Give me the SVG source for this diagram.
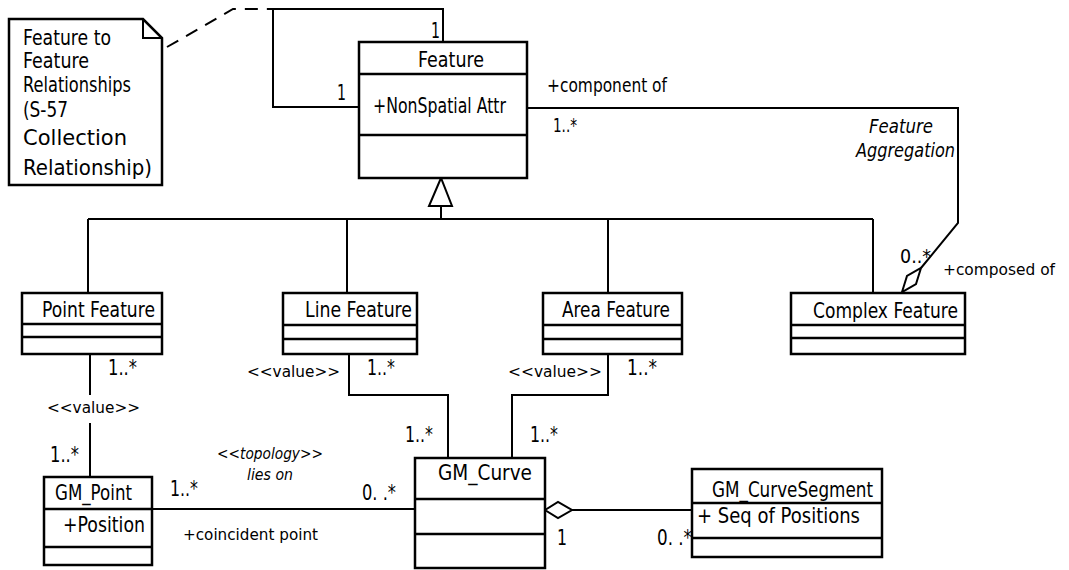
<svg xmlns="http://www.w3.org/2000/svg" width="1069" height="570" viewBox="0 0 1069 570">
<style>
.box{fill:#fff;stroke:#000;stroke-width:2.5}
.div{stroke:#000;stroke-width:2.5}
.ln{fill:none;stroke:#000;stroke-width:2}
.hd{fill:#fff;stroke:#000;stroke-width:2}
text{font-family:"DejaVu Sans","Liberation Sans",sans-serif;fill:#000}
.t{font-size:21px}
.m{font-size:19px}
.s{font-size:15px}
.i{font-style:italic}
</style>
<rect width="1069" height="570" fill="#fff"/>
<g id="connectors">
<path class="ln" d="M443,42 V9 H273 V107 H359"/>
<path class="ln" d="M167,47 L233,9 H273" stroke-dasharray="13,9"/>
<path class="ln" d="M441,206 V219 M88,219 H873 M88,219 V293 M347,219 V293 M608,219 V293 M873,219 V293"/>
<polygon class="hd" points="441,178 429,206 452,206"/>
<path class="ln" d="M527,108 H958 V223 L921,268"/>
<polygon class="hd" points="921,268 916,284 902,292 907,276"/>
<path class="ln" d="M90,354 V395 M90,423 V477"/>
<path class="ln" d="M152,509 H415"/>
<path class="ln" d="M349,354 V395 H448 V458"/>
<path class="ln" d="M608,354 V395 H512 V458"/>
<path class="ln" d="M572,510 H692"/>
<polygon class="hd" points="545,510 558,502 572,510 558,518"/>
<text class="t" x="431" y="38" textLength="9" lengthAdjust="spacingAndGlyphs">1</text>
<text class="t" x="337" y="100" textLength="9" lengthAdjust="spacingAndGlyphs">1</text>
<text class="m" x="547" y="92" textLength="120" lengthAdjust="spacingAndGlyphs">+component of</text>
<text class="m" x="553" y="132" textLength="24" lengthAdjust="spacingAndGlyphs">1..*</text>
<text class="m i" x="869" y="133" textLength="64" lengthAdjust="spacingAndGlyphs">Feature</text>
<text class="m i" x="856" y="157" textLength="99" lengthAdjust="spacingAndGlyphs">Aggregation</text>
<text class="m" x="900" y="263" textLength="31" lengthAdjust="spacingAndGlyphs">0..*</text>
<text x="943" y="275" font-size="16" textLength="112" lengthAdjust="spacingAndGlyphs">+composed of</text>
<text class="t" x="108" y="375" textLength="29" lengthAdjust="spacingAndGlyphs">1..*</text>
<text class="s" x="47" y="413" textLength="93" lengthAdjust="spacingAndGlyphs">&lt;&lt;value&gt;&gt;</text>
<text class="t" x="50" y="462" textLength="29" lengthAdjust="spacingAndGlyphs">1..*</text>
<text class="s" x="247" y="377" textLength="93" lengthAdjust="spacingAndGlyphs">&lt;&lt;value&gt;&gt;</text>
<text class="t" x="367" y="375" textLength="28" lengthAdjust="spacingAndGlyphs">1..*</text>
<text class="s" x="508" y="377" textLength="94" lengthAdjust="spacingAndGlyphs">&lt;&lt;value&gt;&gt;</text>
<text class="t" x="627" y="375" textLength="30" lengthAdjust="spacingAndGlyphs">1..*</text>
<text class="t" x="405" y="442" textLength="28" lengthAdjust="spacingAndGlyphs">1..*</text>
<text class="t" x="530" y="442" textLength="28" lengthAdjust="spacingAndGlyphs">1..*</text>
<text class="s i" x="217" y="459" textLength="106" lengthAdjust="spacingAndGlyphs">&lt;&lt;topology&gt;&gt;</text>
<text class="s i" x="247" y="480" textLength="46" lengthAdjust="spacingAndGlyphs">lies on</text>
<text class="t" x="170" y="496" textLength="28" lengthAdjust="spacingAndGlyphs">1..*</text>
<text class="t" x="362" y="500" textLength="34" lengthAdjust="spacingAndGlyphs">0. .*</text>
<text class="s" x="183" y="540" textLength="135" lengthAdjust="spacingAndGlyphs">+coincident point</text>
<text class="t" x="557" y="545" textLength="10" lengthAdjust="spacingAndGlyphs">1</text>
<text class="t" x="657" y="545" textLength="35" lengthAdjust="spacingAndGlyphs">0. .*</text>
</g>
<g id="note">
<path class="box" d="M9,19 H143 L162,38 V185 H9 Z"/>
<path class="ln" d="M143,19 V38 H162"/>
<text class="t" x="23" y="45" textLength="88" lengthAdjust="spacingAndGlyphs">Feature to</text>
<text class="t" x="23" y="68" textLength="66" lengthAdjust="spacingAndGlyphs">Feature</text>
<text class="t" x="23" y="92" textLength="108" lengthAdjust="spacingAndGlyphs">Relationships</text>
<text class="t" x="23" y="117" textLength="45" lengthAdjust="spacingAndGlyphs">(S-57</text>
<text class="t" x="23" y="145" textLength="104" lengthAdjust="spacingAndGlyphs">Collection</text>
<text class="t" x="23" y="175" textLength="129" lengthAdjust="spacingAndGlyphs">Relationship)</text>
</g>
<g id="feature">
<rect class="box" x="359" y="42" width="168" height="136"/>
<path class="div" d="M359,74 H527 M359,135 H527"/>
<text class="t" x="418" y="67" textLength="66" lengthAdjust="spacingAndGlyphs">Feature</text>
<text class="t" x="373" y="113" textLength="133" lengthAdjust="spacingAndGlyphs">+NonSpatial Attr</text>
</g>
<g id="point-feature">
<rect class="box" x="22" y="293" width="140" height="61"/>
<path class="div" d="M22,324 H162 M22,337 H162"/>
<text class="t" x="42" y="317" textLength="113" lengthAdjust="spacingAndGlyphs">Point Feature</text>
</g>
<g id="line-feature">
<rect class="box" x="283" y="293" width="134" height="61"/>
<path class="div" d="M283,325 H417 M283,339 H417"/>
<text class="t" x="305" y="317" textLength="107" lengthAdjust="spacingAndGlyphs">Line Feature</text>
</g>
<g id="area-feature">
<rect class="box" x="543" y="293" width="139" height="61"/>
<path class="div" d="M543,325 H682 M543,339 H682"/>
<text class="t" x="562" y="317" textLength="108" lengthAdjust="spacingAndGlyphs">Area Feature</text>
</g>
<g id="complex-feature">
<rect class="box" x="791" y="293" width="174" height="61"/>
<path class="div" d="M791,325 H965 M791,338 H965"/>
<text class="t" x="813" y="318" textLength="145" lengthAdjust="spacingAndGlyphs">Complex Feature</text>
</g>
<g id="gm-point">
<rect class="box" x="44" y="477" width="108" height="88"/>
<path class="div" d="M44,509 H152 M44,547 H152"/>
<text class="t" x="55" y="500" textLength="77" lengthAdjust="spacingAndGlyphs">GM_Point</text>
<text class="t" x="63" y="532" textLength="82" lengthAdjust="spacingAndGlyphs">+Position</text>
</g>
<g id="gm-curve">
<rect class="box" x="415" y="458" width="130" height="110"/>
<path class="div" d="M415,499 H545 M415,534 H545"/>
<text class="t" x="438" y="480" textLength="94" lengthAdjust="spacingAndGlyphs">GM_Curve</text>
</g>
<g id="gm-curvesegment">
<rect class="box" x="692" y="469" width="190" height="88"/>
<path class="div" d="M692,503 H882 M692,538 H882"/>
<text class="t" x="712" y="497" textLength="161" lengthAdjust="spacingAndGlyphs">GM_CurveSegment</text>
<text class="t" x="697" y="523" textLength="163" lengthAdjust="spacingAndGlyphs">+ Seq of Positions</text>
</g>
</svg>
